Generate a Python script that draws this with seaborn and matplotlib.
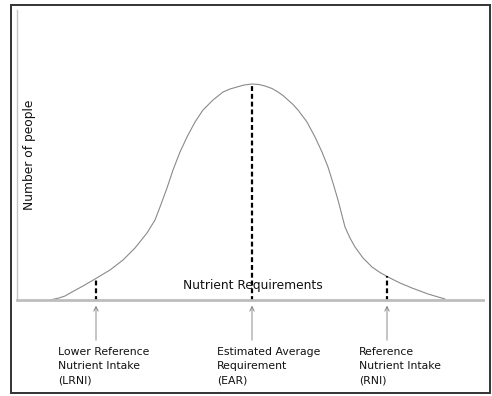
import matplotlib
matplotlib.use("Agg")
import matplotlib.pyplot as plt
from matplotlib.patches import Rectangle
import numpy as np
import pandas as pd
import seaborn as sns

sns.set_style("white")
plt.rcParams["font.family"] = ["DejaVu Sans"]

# curve (arbitrary units)
requirement = [33, 42, 48, 55, 66, 78, 93, 106, 118, 130, 138, 143, 150, 156, 163, 170,
               178, 186, 191, 196, 201, 206, 213, 220, 227, 235, 242, 248, 255, 261,
               266, 271, 276, 281, 290, 298, 305, 311, 316, 321, 328, 333, 338, 346,
               355, 363, 371, 383, 395, 411, 428]
people = [0, 2, 4, 8, 14, 21, 30, 40, 52, 67, 80, 93, 112, 130, 148, 163,
          178, 190, 195, 200, 204, 208, 211, 213, 215, 216, 215.5, 214, 211.5, 208,
          204.5, 200, 195.5, 190, 178, 163, 148, 133, 117, 100, 73, 62, 53, 42,
          33, 27.5, 23, 17, 12, 6, 1]

marker_x = [79, 235, 370]
marker_labels = ["Lower Reference\nNutrient Intake\n(LRNI)",
                 "Estimated Average\nRequirement\n(EAR)",
                 "Reference\nNutrient Intake\n(RNI)"]
label_x = [41, 200, 342]

df = pd.DataFrame({"requirement": requirement, "people": people})

fig = plt.figure(figsize=(4.92, 3.96), dpi=100)
ax = fig.add_axes([17 / 492, 96 / 396, 466 / 492, 290 / 396])

sns.lineplot(data=df, x="requirement", y="people", ax=ax, color="#8a8a8a", lw=0.8)

ax.set_xlim(0, 466)
ax.set_ylim(0, 290)
ax.set_xticks([])
ax.set_yticks([])
ax.set_xlabel("")
ax.set_ylabel("")
for s in ["top", "right"]:
    ax.spines[s].set_visible(False)
ax.spines["left"].set_color("#c4c4c4")
ax.spines["left"].set_linewidth(1.0)
ax.spines["bottom"].set_color("#bdbdbd")
ax.spines["bottom"].set_linewidth(2.0)

for mx, lab, lx in zip(marker_x, marker_labels, label_x):
    top = np.interp(mx, requirement, people)
    ax.plot([mx, mx], [-1, top], color="black", lw=1.6,
            linestyle=(0, (2.2, 1.3)), clip_on=False)
    ax.annotate("", xy=(mx, -3), xytext=(mx, -43),
                arrowprops=dict(arrowstyle="->", color="#777777", lw=0.6,
                                mutation_scale=8),
                annotation_clip=False)
    ax.text(lx, -47, lab, ha="left", va="top", fontsize=7.8,
            linespacing=1.55, color="#111111", clip_on=False)

ax.text(236, 15, "Nutrient Requirements", ha="center", va="center",
        fontsize=8.8, color="#111111")
ax.text(13, 145, "Number of people", ha="center", va="center",
        rotation=90, fontsize=8.8, color="#111111")

fig.patches.append(Rectangle((11 / 492, 3 / 396), 479 / 492, 388.5 / 396,
                             transform=fig.transFigure, fill=False,
                             edgecolor="#333333", lw=1.4))

fig.savefig("out.png", dpi=100)
